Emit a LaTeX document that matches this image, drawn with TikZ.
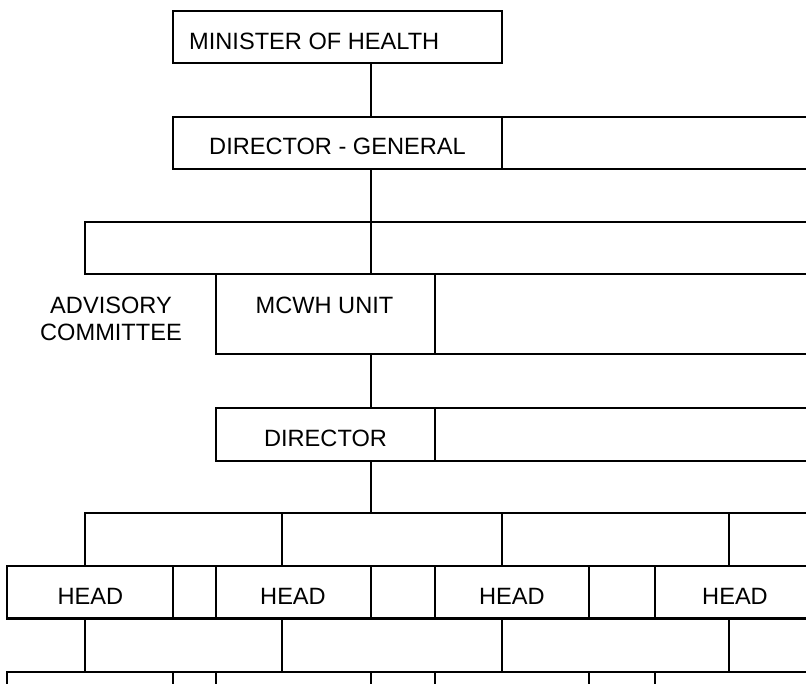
\documentclass[tikz,border=0pt]{standalone}
\usepackage{fontspec}
\setmainfont{Liberation Sans}
\begin{document}
\begin{tikzpicture}[x=1pt,y=-1pt,
  cell/.style={draw, line width=2.3pt, inner sep=0pt, outer sep=0pt, anchor=north west},
  lab/.style={font=\fontsize{23.6}{27.4}\selectfont, inner sep=0pt, anchor=base},
  link/.style={line width=2.3pt}]
\useasboundingbox (0,0) rectangle (806,684);
\clip (0,0) rectangle (806,684);
% helper: \cellbox{name}{x1}{y1}{x2}{y2}
\newcommand\cellbox[5]{\node[cell, minimum width={#4-#2}, minimum height={#5-#3}] (#1) at (#2,#3) {};}
% top
\cellbox{min}{172.7}{11}{501.7}{63.3}
\cellbox{dg}{172.7}{116.7}{502.3}{169}
\cellbox{dgr}{502.3}{116.7}{812}{169}
\cellbox{rtl}{84.8}{221.7}{370.7}{274}
\cellbox{rtr}{370.7}{221.7}{812}{274}
\cellbox{mcwh}{215.7}{274}{435}{354.3}
\cellbox{mcwhr}{435}{274}{812}{354.3}
\cellbox{dir}{215.7}{407.7}{435}{460.7}
\cellbox{dirr}{435}{407.7}{812}{460.7}
% row above heads
\cellbox{ua}{84.8}{513.3}{281.7}{565.7}
\cellbox{ub}{281.7}{513.3}{501.7}{565.7}
\cellbox{uc}{501.7}{513.3}{729}{565.7}
\cellbox{ud}{729}{513.3}{812}{565.7}
% heads row
\cellbox{ha}{7.3}{565.7}{172.7}{618.5}
\cellbox{hab}{172.7}{565.7}{215.7}{618.5}
\cellbox{hb}{215.7}{565.7}{370.7}{618.5}
\cellbox{hbc}{370.7}{565.7}{435}{618.5}
\cellbox{hc}{435}{565.7}{589}{618.5}
\cellbox{hcd}{589}{565.7}{655}{618.5}
\cellbox{hd}{655}{565.7}{812}{618.5}
% row below heads
\cellbox{la}{84.8}{618.5}{281.7}{671.7}
\cellbox{lb}{281.7}{618.5}{501.7}{671.7}
\cellbox{lc}{501.7}{618.5}{729}{671.7}
\cellbox{ld}{729}{618.5}{812}{671.7}
% bottom row
\cellbox{ba}{7.3}{671.7}{172.7}{700}
\cellbox{bab}{172.7}{671.7}{215.7}{700}
\cellbox{bb}{215.7}{671.7}{370.7}{700}
\cellbox{bbc}{370.7}{671.7}{435}{700}
\cellbox{bc}{435}{671.7}{589}{700}
\cellbox{bcd}{589}{671.7}{655}{700}
\cellbox{bd}{655}{671.7}{812}{700}
% connectors
\coordinate (axis) at (370.7,0);
\draw[link] (min.south -| axis) -- (dg.north -| axis);
\draw[link] (dg.south -| axis) -- (rtl.north east);
\draw[link] (mcwh.south -| axis) -- (dir.north -| axis);
\draw[link] (dir.south -| axis) -- (ua.north -| axis);
% labels
\node[lab, anchor=base west] (tmin) at (189,50) {MINISTER OF HEALTH};
\node[lab] (tdg) at (337.5,155) {DIRECTOR - GENERAL};
\node[lab] (tmcwh) at (324.5,313.3) {MCWH UNIT};
\node[lab] (tdir) at (325.5,446.7) {DIRECTOR};
\node[lab] (tadv1) at (111,313.3) {ADVISORY};
\node[lab] (tadv2) at (111,340.7) {COMMITTEE};
\node[lab] (tha) at (90.3,604.7) {HEAD};
\node[lab] (thb) at (293,604.7) {HEAD};
\node[lab] (thc) at (511.8,604.7) {HEAD};
\node[lab] (thd) at (735,604.7) {HEAD};
\end{tikzpicture}
\end{document}
